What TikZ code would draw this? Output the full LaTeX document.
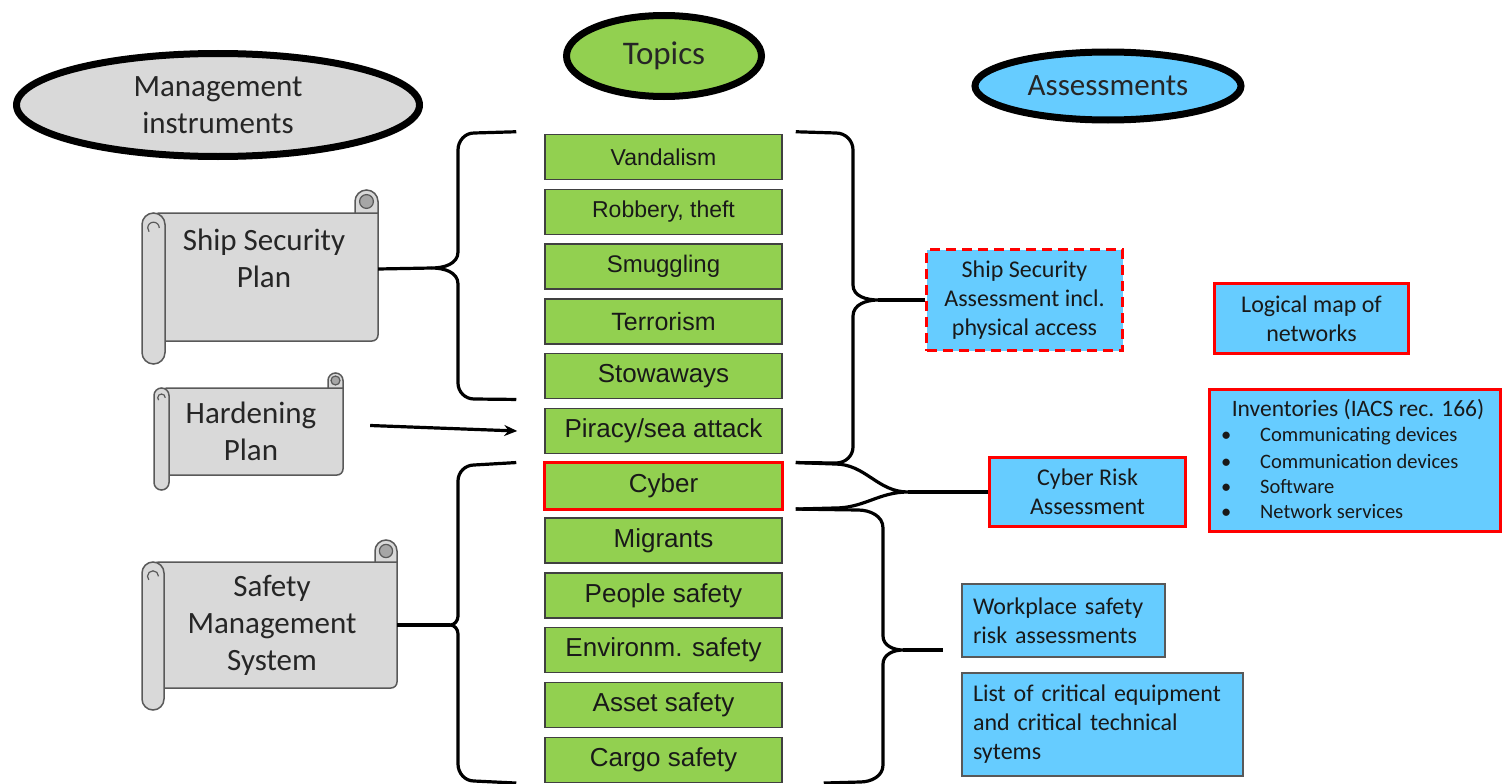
\documentclass[tikz,border=0pt]{standalone}
\usepackage{fontspec}
\setmainfont{Carlito}
\newfontfamily\arialfont{Liberation Sans}
\usetikzlibrary{shapes.geometric,positioning,calc,fit,arrows.meta}

\definecolor{mgray}{HTML}{D9D9D9}
\definecolor{tgreen}{HTML}{92D050}
\definecolor{ablue}{HTML}{66CCFF}
\definecolor{curlgray}{HTML}{A6A6A6}
\definecolor{edgegray}{HTML}{595959}

\tikzset{
  headell/.style={ellipse, draw=black, line width=7pt, text=black!85, font=\fontsize{31}{37}\selectfont, align=center, inner sep=0pt},
  topic/.style={draw=black!75, line width=1.5pt, fill=tgreen, minimum width=237pt, minimum height=45pt, inner sep=0pt, text=black!90},
  scrollbody/.style={fill=mgray, draw=edgegray, line width=1.5pt},
  scrolltext/.style={align=center, font=\fontsize{31}{37}\selectfont, text=black!85},
  abox/.style={fill=ablue, draw=red, line width=3.5pt, inner sep=0pt, align=center, font=\fontsize{24}{29}\selectfont, text=black!90},
  bracket/.style={draw=black, line width=3.2pt, line join=round},
}

% rolled paper: name, x0, y0, x1, y1, roll radius
\newcommand{\paperscroll}[6]{%
  \filldraw[scrollbody] ({#2+#6},#3) -- (#4,#3) [rounded corners=6pt] -- (#4,#5) -- ({#2+#6},#5) -- cycle;
  \filldraw[scrollbody] ({#4-2*#6},#3) -- ({#4-2*#6},{#3-#6}) arc[start angle=180,end angle=0,radius=#6pt] -- (#4,#3) -- cycle;
  \filldraw[fill=curlgray, draw=edgegray, line width=1.2pt] ({#4-#6},{#3-#6}) circle[radius=0.6*#6pt];
  \filldraw[scrollbody] (#2,{#3+#6}) -- (#2,{#5+#6}) arc[start angle=180,end angle=360,radius=#6pt] -- ({#2+2*#6},{#3+#6}) arc[start angle=0,end angle=180,radius=#6pt] -- cycle;
  \draw[edgegray, line width=1.2pt] ({#2+1.5*#6},{#3+1.3*#6}) arc[start angle=0,end angle=220,radius=0.5*#6pt];
  \node[fit={({#2+#6},#3) (#4,#5)}, inner sep=0pt] (#1) {};
}

\begin{document}
\begin{tikzpicture}[x=1pt,y=-1pt]
\useasboundingbox (0,0) rectangle (1504,784);

%Titulos
\node[headell, fill=mgray, minimum width=403pt, minimum height=103pt] (mgmt) at (218,105) {Management\\instruments};
\node[headell, fill=tgreen, minimum width=195pt, minimum height=81pt, font=\fontsize{33}{37}\selectfont] (topics) at (664,56) {Topics};
\node[headell, fill=ablue, minimum width=266pt, minimum height=68pt] (assess) at (1108,86) {Assessments};

%Temas
\foreach \lbl/\nm/\fs [count=\i from 0] in {Vandalism/vand/23, {Robbery, theft}/rob/23, Smuggling/smug/24,
    Terrorism/terr/25, Stowaways/stow/26, {Piracy/sea attack}/pir/26, Cyber/cyb/26, Migrants/migr/26,
    {People safety}/peop/26, {Environm. safety}/envi/26, {Asset safety}/asset/26, {Cargo safety}/cargo/26}{
    \node[topic, font=\arialfont\fontsize{\fs}{30}\selectfont] (\nm) at (663.5,{157+54.8*\i}) {\lbl};
}
\draw[red, line width=3pt] (cyb.north west) rectangle (cyb.south east);

%Instrumentos
\paperscroll{ssp}{142}{213}{378}{341}{11.5}
\paperscroll{hard}{154}{388}{343}{475}{7.5}
\paperscroll{sms}{142}{562}{397}{688}{11}
\node[scrolltext] (ssptxt) at (264,258) {Ship Security\\Plan};
\node[scrolltext] (hardtxt) at (251,431) {Hardening\\Plan};
\node[scrolltext] (smstxt) at (272,625) {Safety\\Management\\System};

%Evaluaciones
\node[abox, dashed, dash pattern=on 10pt off 6pt, line width=3pt, minimum width=196pt, minimum height=101pt] (ssa) at (1024.5,300) {Ship Security\\Assessment incl.\\physical access};
\node[abox, minimum width=194pt, minimum height=70pt] (lmap) at (1311.5,318.5) {Logical map of\\networks};
\node[abox, minimum width=196pt, minimum height=69pt] (crisk) at (1087.5,492) {Cyber Risk\\Assessment};
\node[abox, minimum width=291pt, minimum height=142pt] (inv) at (1355,460.5) {};
\node[font=\fontsize{23.5}{25}\selectfont, text=black!90] (invtitle) at (1358,410) {Inventories (IACS rec. 166)};
\foreach \itm [count=\k] in {Communicating devices, Communication devices, Software, Network services}{
    \node[anchor=west, inner sep=0pt, font=\fontsize{20.5}{25}\selectfont, text=black!90] (inv\k) at (1221,{411.5+25*\k}) {\makebox[39pt][l]{\textbullet}\itm};
}
\node[abox, draw=edgegray, line width=1.5pt, align=left, text width=181pt, inner xsep=11pt, minimum height=73pt] (wps) at (1063.5,620.5) {Workplace safety\\risk assessments};
\node[abox, draw=edgegray, line width=1.5pt, align=left, text width=259pt, inner xsep=11pt, minimum height=103pt] (lce) at (1102.5,724.5) {List of critical equipment\\and critical technical\\sytems};

%Llaves izquierda
\coordinate (lAtop) at ($(vand.north west)+(-28,-2)$);
\coordinate (lAbot) at ($(stow.south west)+(-28,0)$);
\draw[bracket] (lAtop) -- (474,133) to[out=180,in=90] (458,150) -- (458,252) to[out=-90,in=0] (432,268)
    to[out=0,in=90] (458,284) -- (458,383) to[out=-90,in=180] (474,399) -- (lAbot);
\draw[bracket] ([yshift=8pt]ssp.east) -- (432,268);

\draw[bracket, -{Stealth[length=13pt,width=11pt]}] ([xshift=27pt,yshift=6pt]hard.east) -- ([xshift=-27pt]pir.west);

\coordinate (lBtop) at ($(cyb.north west)+(-28,0)$);
\coordinate (lBbot) at ($(cargo.south west)+(-28,0)$);
\draw[bracket] (lBtop) -- (474,465) to[out=180,in=90] (458,481) -- (458,616) to[out=-90,in=0] (450,625)
    to[out=0,in=90] (458,634) -- (458,764) to[out=-90,in=180] (474,781) -- (lBbot);
\draw[bracket] (sms.east) -- (450,625);

%Llaves derecha
\coordinate (rCtop) at ($(vand.north east)+(13,-2)$);
\coordinate (rCbot) at ($(cyb.north east)+(13,0)$);
\draw[bracket] (rCtop) -- (836,133) to[out=0,in=90] (853,150) -- (853,285) to[out=-90,in=180] (878,300)
    to[out=180,in=90] (853,316) -- (853,447) to[out=-90,in=0] (836,463) -- (rCbot);
\draw[bracket] (878,300) -- (ssa.west);

\coordinate (rDbot) at ($(cyb.south east)+(13,0)$);
\draw[bracket] (rCbot) -- (835,464) to[out=0,in=180] (908,492) to[out=180,in=0] (835,508) -- (rDbot);
\draw[bracket] (908,492) -- (crisk.west);

\coordinate (rEbot) at ($(cargo.south east)+(41,0)$);
\coordinate (rEend) at (943,650);
\draw[bracket] (rDbot) -- (858,510) to[out=0,in=90] (883,528) -- (883,636) to[out=-90,in=180] (903,650)
    to[out=180,in=90] (883,664) -- (883,765) to[out=-90,in=0] (860,782) -- (rEbot);
\draw[bracket] (903,650) -- (rEend);
\end{tikzpicture}
\end{document}
